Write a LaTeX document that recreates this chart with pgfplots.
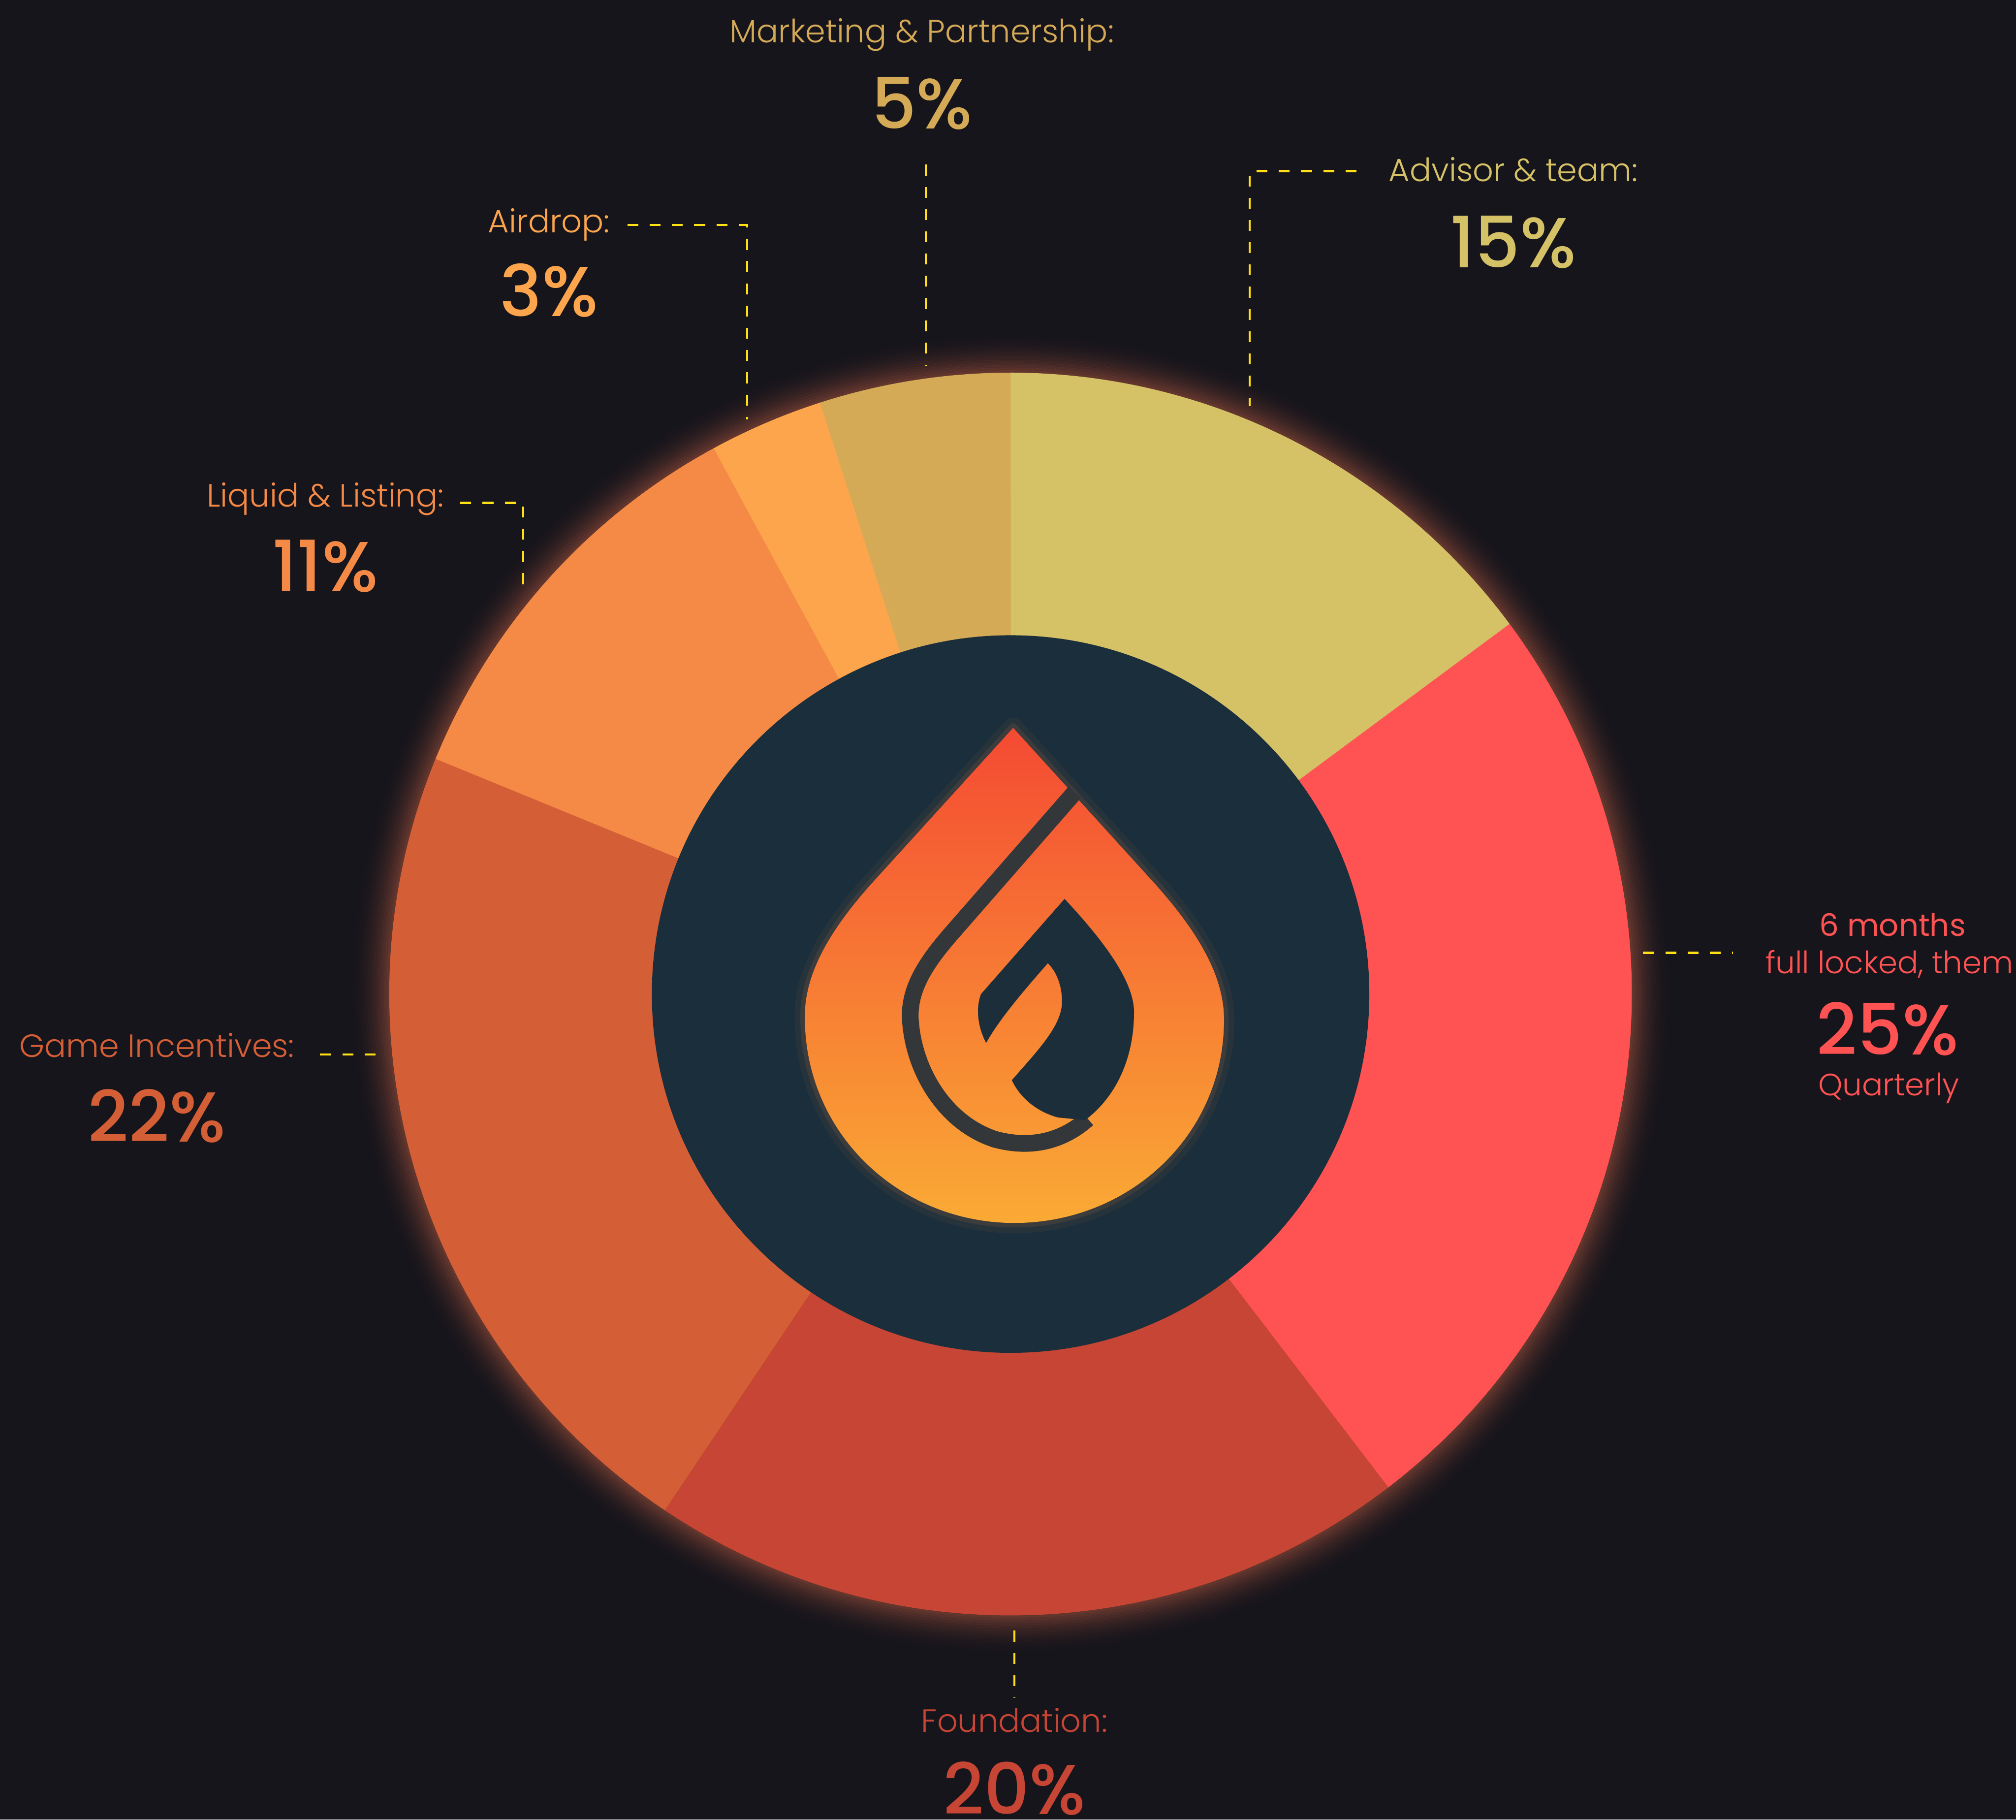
\documentclass[border=0pt]{standalone}
\usepackage{pgfplots}
\pgfplotsset{compat=1.18}
\usepackage{fontspec}
\setmainfont{Poppins}
\newfontfamily\plight{Poppins Light}
\newfontfamily\pmed{Poppins Medium}
\definecolor{bgc}{HTML}{17151C}
\definecolor{cAdv}{HTML}{D6C266}
\definecolor{cSix}{HTML}{FF5252}
\definecolor{cFound}{HTML}{C64534}
\definecolor{cGame}{HTML}{D45F37}
\definecolor{cLiq}{HTML}{F48A45}
\definecolor{cAir}{HTML}{FCA54D}
\definecolor{cMkt}{HTML}{D4AA56}
\definecolor{tealc}{HTML}{1B2E3B}
\definecolor{dashc}{HTML}{FFE014}
\definecolor{glowc}{HTML}{703C31}
\definecolor{logoTop}{HTML}{F44A33}
\definecolor{logoMid}{HTML}{F46D36}
\definecolor{logoBot}{HTML}{FAAA35}
\definecolor{gapc}{HTML}{33373A}
\definecolor{holec}{HTML}{1C2E3A}
\definecolor{logoglow}{HTML}{F0903F}
\tikzset{lead/.style={draw=dashc, line width=1.7pt, dash pattern=on 8.5pt off 8.8pt}}
\def\droppath{(2,207) -- (-108,86) .. controls (-142,48) and (-161,14) .. (-160,-20) .. controls (-159,-110) and (-85,-178) .. (3,-178) .. controls (92,-178) and (166,-110) .. (166,-20) .. controls (166,14) and (146,48) .. (112,86) -- cycle}
\begin{document}
\begin{tikzpicture}
\useasboundingbox (0,0) rectangle (1568pt,1415pt);
\clip (0,0) rectangle (1568pt,1415pt);
\begin{axis}[x=1pt,y=1pt,xmin=-786,xmax=782,ymin=-642,ymax=773,
  axis lines=none,ticks=none,clip=false,at={(0,0)},anchor=south west]
\fill[bgc] (-786,-642) rectangle (782,773);
% glow around the ring
\foreach \k in {0,...,14}{
  \pgfmathsetmacro\rr{484+2*\k}
  \pgfmathsetmacro\op{0.85*(1-\k/15)^2}
  \edef\temp{\noexpand\draw[glowc, line width=2.1pt, opacity=\op] (axis cs:0,0) circle[radius=\rr pt];}
  \temp
}
% donut slices (percentages, clockwise from 12 o'clock)
\pgfmathsetmacro\total{15+25+20+22+11+3+5}
\xdef\cum{90}
\foreach \v/\c in {15/cAdv,25/cSix,20/cFound,22/cGame,11/cLiq,3/cAir,5/cMkt}{
  \pgfmathsetmacro\aend{\cum-\v/\total*360}
  \edef\temp{\noexpand\fill[fill=\c,draw=\c,line width=0.4pt] (axis cs:0,0) -- (axis cs:{483*cos(\cum)},{483*sin(\cum)}) arc[start angle=\cum, end angle=\aend, radius=483pt] -- cycle;}
  \temp
  \xdef\cum{\aend}
}
\fill[tealc] (0,0) circle[radius=279pt];
% logo
\draw[logoglow, opacity=0.06, line width=16pt, line join=round] \droppath;
\draw[logoglow, opacity=0.10, line width=7pt, line join=round] \droppath;
\shade[top color=logoTop, middle color=logoMid, bottom color=logoBot] \droppath;
\draw[gapc, line width=13pt, line join=round] (50,157) -- (-47,46) .. controls (-66,24) and (-79,4) .. (-78,-19) .. controls (-76,-58) and (-52,-100) .. (-12,-113) .. controls (18,-121) and (42,-113) .. (60,-97);
\fill[holec] (42,74) .. controls (68,46) and (96,12) .. (96,-14) .. controls (96,-50) and (82,-80) .. (58,-98) -- (37,-96) .. controls (22,-92) and (8,-82) .. (1,-67) .. controls (20,-45) and (40,-25) .. (40,-6) .. controls (40,8) and (35,18) .. (29,24) .. controls (15,8) and (-8,-18) .. (-19,-38) .. controls (-26,-25) and (-27,-10) .. (-23,0) -- cycle;
% leader lines
\draw[lead] (-66,645) -- (-66,488);
\draw[lead] (-298,598) -- (-205,598) -- (-205,447);
\draw[lead] (269,640) -- (186,640) -- (186,457);
\draw[lead] (-428,382) -- (-379,382) -- (-379,316);
\draw[lead] (-537,-47) -- (-489,-47);
\draw[lead] (492,32) -- (562,32);
\draw[lead] (3,-495) -- (3,-547);
% labels
\tikzset{lab/.style={anchor=base, inner sep=0pt, font=\plight\fontsize{25}{28}\selectfont},
         pct/.style={anchor=base, inner sep=0pt, font=\pmed\fontsize{55}{58}\selectfont}}
\node[lab, text=cMkt] at (-69,740) {Marketing \& Partnership:};
\node[pct, text=cMkt] at (-69,673) {5\%};
\node[lab, text=cAir] at (-359,592) {Airdrop:};
\node[pct, text=cAir] at (-359,527) {3\%};
\node[lab, text=cAdv] at (391,632) {Advisor \& team:};
\node[pct, text=cAdv] at (391,565) {15\%};
\node[lab, text=cLiq] at (-533,379) {Liquid \& Listing:};
\node[pct, text=cLiq] at (-533,313) {11\%};
\node[lab, text=cGame] at (-664,-49) {Game Incentives:};
\node[pct, text=cGame] at (-664,-115) {22\%};
\node[anchor=base, inner sep=0pt, text=cSix, font=\fontsize{24}{27}\selectfont] at (686,45) {6 months};
\node[anchor=base west, inner sep=0pt, text=cSix, font=\plight\fontsize{24}{27}\selectfont] at (587,16) {full locked, them};
\node[anchor=base, inner sep=0pt, text=cSix, font=\pmed\fontsize{55}{58}\selectfont] at (682,-47) {25\%};
\node[anchor=base, inner sep=0pt, text=cSix, font=\plight\fontsize{24}{27}\selectfont] at (683,-79) {Quarterly};
\node[lab, text=cFound] at (3,-574) {Foundation:};
\node[pct, text=cFound] at (3,-638) {20\%};
\end{axis}
\end{tikzpicture}
\end{document}
